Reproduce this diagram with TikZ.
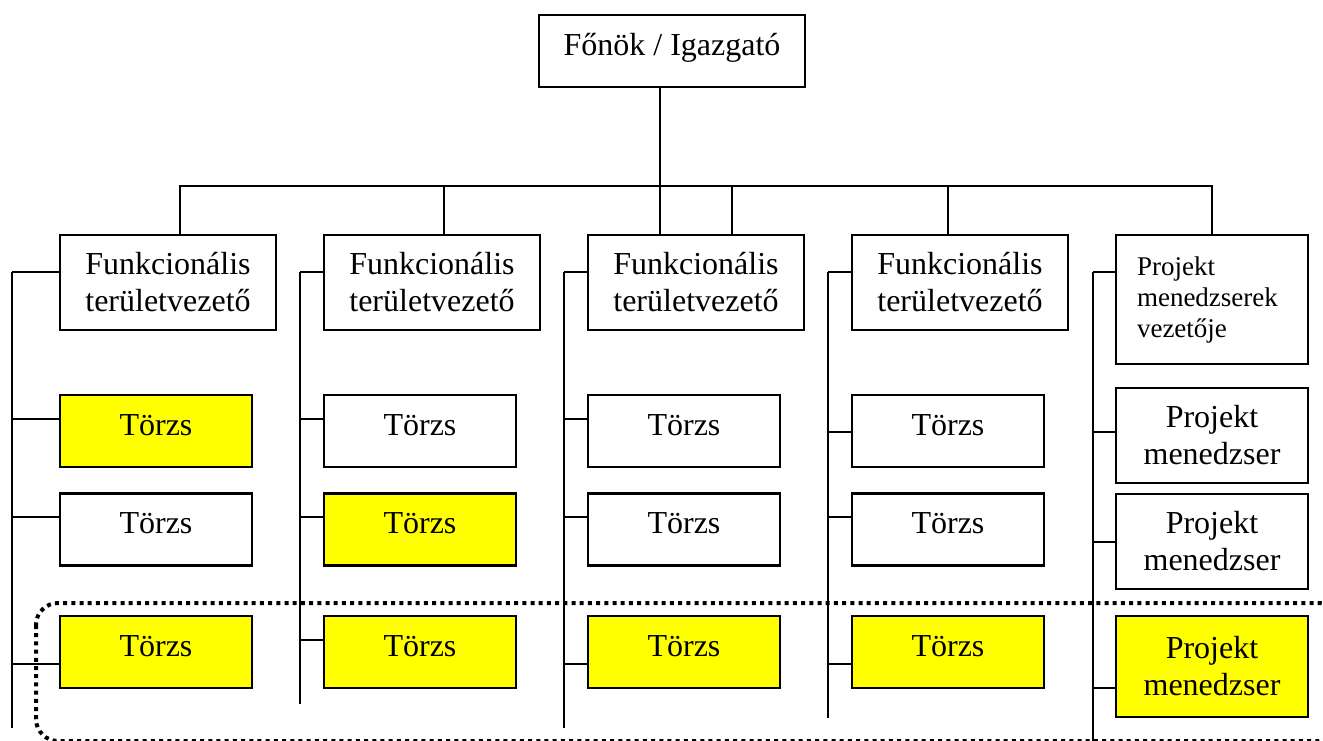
\documentclass[tikz,border=0pt]{standalone}
\usepackage{fontspec}
\setmainfont{Liberation Serif}
\definecolor{hlyellow}{RGB}{255,255,0}
\begin{document}
\begin{tikzpicture}[x=1pt,y=-1pt,
  box/.style={draw, line width=2.2pt, inner sep=0pt, font=\fontsize{32}{37}\selectfont, align=center},
  hi/.style={fill=hlyellow},
  oneline/.style={text height=22pt, text depth=14pt},
  fnbox/.style={box, minimum width=216pt, minimum height=95pt},
  staff/.style={box, oneline, minimum width=192pt, minimum height=72pt},
  pmbox/.style={box, minimum width=192pt, minimum height=95pt},
  wire/.style={line width=2pt},
  group/.style={line width=4pt, dash pattern=on 4pt off 4.2pt, rounded corners=22pt}]

\useasboundingbox (0,0) rectangle (1323,740);

% dotted frame around the bottom row
\begin{scope}
  \clip (0,0) rectangle (1323,740);
  \draw[group] (36,603) rectangle (1341,741);
\end{scope}

% top of the hierarchy
\node[box, oneline, minimum width=266pt, minimum height=72pt] (boss) at (672,51) {Főnök / Igazgató};

% functional heads and the project manager lead
\node[fnbox] (f1) at (168,282.5) {Funkcionális\\területvezető};
\node[fnbox] (f2) at (432,282.5) {Funkcionális\\területvezető};
\node[fnbox] (f3) at (696,282.5) {Funkcionális\\területvezető};
\node[fnbox] (f4) at (960,282.5) {Funkcionális\\területvezető};
\node[box, minimum width=192pt, minimum height=129pt, text width=150pt,
      inner xsep=21pt, align=left, font=\fontsize{27}{31}\selectfont]
      (pm) at (1212,299.5) {Projekt\\menedzserek\\vezetője};

% staff boxes, column by column
\node[staff, hi] (t11) at (156,431)   {Törzs};
\node[staff]     (t12) at (156,529.5) {Törzs};
\node[staff, hi] (t13) at (156,652)   {Törzs};

\node[staff]     (t21) at (420,431)   {Törzs};
\node[staff, hi] (t22) at (420,529.5) {Törzs};
\node[staff, hi] (t23) at (420,652)   {Törzs};

\node[staff]     (t31) at (684,431)   {Törzs};
\node[staff]     (t32) at (684,529.5) {Törzs};
\node[staff, hi] (t33) at (684,652)   {Törzs};

\node[staff]     (t41) at (948,431)   {Törzs};
\node[staff]     (t42) at (948,529.5) {Törzs};
\node[staff, hi] (t43) at (948,652)   {Törzs};

\node[pmbox]     (p1) at (1212,435.5) {Projekt\\menedzser};
\node[pmbox]     (p2) at (1212,541.5) {Projekt\\menedzser};
\node[pmbox, hi, minimum height=101pt] (p3) at (1212,666.5) {Projekt\\menedzser};

% trunk and bus
\draw[wire] ([xshift=-12pt]boss.south) -- ([xshift=-36pt]f3.north);
\draw[wire] ([xshift=12pt]f1.north) -- ++(0,-48) -| (pm.north);
\draw[wire] ([xshift=12pt]f2.north) -- ++(0,-48);
\draw[wire] ([xshift=36pt]f3.north) -- ++(0,-48);
\draw[wire] ([xshift=-12pt]f4.north) -- ++(0,-48);

% vertical spines on the left of each column
\coordinate (s1t) at (12,272);   \coordinate (s1b) at (12,728);
\coordinate (s2t) at (300,272);  \coordinate (s2b) at (300,704);
\coordinate (s3t) at (564,272);  \coordinate (s3b) at (564,728);
\coordinate (s4t) at (828,272);  \coordinate (s4b) at (828,718);
\coordinate (s5t) at (1093,272); \coordinate (s5b) at (1093,741);
\draw[wire] (s1t) -- (s1b);
\draw[wire] (s2t) -- (s2b);
\draw[wire] (s3t) -- (s3b);
\draw[wire] (s4t) -- (s4b);
\draw[wire] (s5t) -- (s5b);

% branches from the spines into the boxes
\draw[wire] ([yshift=10.5pt]f1.west) -- (s1t);
\draw[wire] ([yshift=12pt]t11.west) -- ++(-48,0);
\draw[wire] ([yshift=12.5pt]t12.west) -- ++(-48,0);
\draw[wire] ([yshift=-12pt]t13.west) -- ++(-48,0);

\draw[wire] ([yshift=10.5pt]f2.west) -- (s2t);
\draw[wire] ([yshift=12pt]t21.west) -- ++(-24,0);
\draw[wire] ([yshift=12.5pt]t22.west) -- ++(-24,0);
\draw[wire] ([yshift=12pt]t23.west) -- ++(-24,0);

\draw[wire] ([yshift=10.5pt]f3.west) -- (s3t);
\draw[wire] ([yshift=12pt]t31.west) -- ++(-24,0);
\draw[wire] ([yshift=12.5pt]t32.west) -- ++(-24,0);
\draw[wire] ([yshift=-12pt]t33.west) -- ++(-24,0);

\draw[wire] ([yshift=10.5pt]f4.west) -- (s4t);
\draw[wire] ([yshift=-1pt]t41.west) -- ++(-24,0);
\draw[wire] ([yshift=12.5pt]t42.west) -- ++(-24,0);
\draw[wire] ([yshift=-12pt]t43.west) -- ++(-24,0);

\draw[wire] ([yshift=27.5pt]pm.west) -- (s5t);
\draw[wire] ([yshift=3.5pt]p1.west) -- ++(-23,0);
\draw[wire] ([yshift=-0.5pt]p2.west) -- ++(-23,0);
\draw[wire] ([yshift=-21.5pt]p3.west) -- ++(-23,0);
\end{tikzpicture}
\end{document}
